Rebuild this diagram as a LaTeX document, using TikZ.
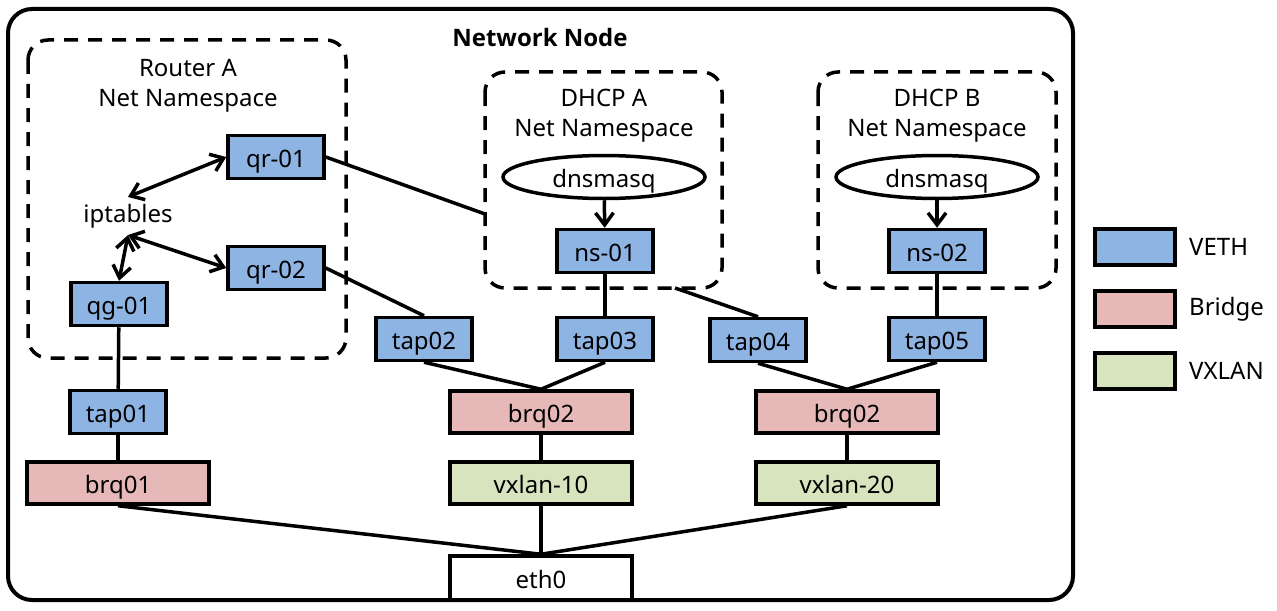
\documentclass[tikz,border=0pt]{standalone}
\usepackage{fontspec}
\setmainfont{Noto Sans}
\newfontfamily\titlefont{Open Sans}
\usetikzlibrary{positioning,arrows.meta,shapes.geometric}

\def \lineWidth {1.75pt}
\definecolor{vethBlue}{HTML}{8EB4E3}
\definecolor{bridgeRed}{HTML}{E6B9B8}
\definecolor{vxlanGreen}{HTML}{D7E4BD}

\tikzset{
  dev/.style={draw, line width=\lineWidth, inner sep=0pt, text height=10pt, text depth=0pt},
  veth/.style={dev, fill=vethBlue, minimum width=48pt, minimum height=21.5pt},
  bridge/.style={dev, fill=bridgeRed, minimum width=91pt, minimum height=21pt},
  vxlan/.style={dev, fill=vxlanGreen, minimum width=91pt, minimum height=21pt},
  proc/.style={dev, ellipse, minimum width=101pt, minimum height=21.5pt},
  nsbox/.style={draw, line width=\lineWidth, dash pattern=on 7pt off 5pt, rounded corners=10pt},
  legbox/.style={draw, line width=\lineWidth, minimum width=40pt, minimum height=18pt},
  link/.style={line width=\lineWidth},
  arr/.style={line width=\lineWidth, -{Straight Barb[length=6pt,width=9pt]}},
  twoway/.style={line width=\lineWidth, {Straight Barb[length=6pt,width=9pt]}-{Straight Barb[length=6pt,width=9pt]}}
}

\begin{document}
\begin{tikzpicture}[x=0.5pt, y=-0.5pt, font=\fontsize{12}{15}\selectfont]
   \useasboundingbox (0,0) rectangle (1277,610);
   \draw[line width=2pt, rounded corners=12pt] (8,9) rectangle (1073,600);
   \node[font=\titlefont\fontsize{12}{15}\selectfont\bfseries] (title) at (540,38) {Network Node};

   % namespaces
   \draw[nsbox] (28,40) rectangle (346,358);
   \draw[nsbox] (485,72) rectangle (722,288);
   \draw[nsbox] (818,72) rectangle (1056,288);
   \node[align=center] (routerLbl) at (188,86) {Router A\\Net Namespace};
   \node[align=center] (dhcpALbl) at (604,116) {DHCP A\\Net Namespace};
   \node[align=center] (dhcpBLbl) at (937,116) {DHCP B\\Net Namespace};
   \coordinate (dhcpAin) at (485,214);
   \coordinate (dhcpAout) at (675,288);

   % devices
   \node (iptables) at (128,216) {iptables};
   \node[veth] (qr01) at (276,157) {qr-01};
   \node[veth] (qr02) at (276,268) {qr-02};
   \node[veth] (qg01) at (119,304) {qg-01};
   \node[proc] (dnsmasqA) at (604,177) {dnsmasq};
   \node[proc] (dnsmasqB) at (937,177) {dnsmasq};
   \node[veth] (ns01) at (605,251) {ns-01};
   \node[veth] (ns02) at (937,251) {ns-02};
   \node[veth] (tap01) at (118,412) {tap01};
   \node[veth] (tap02) at (424,339) {tap02};
   \node[veth] (tap03) at (605,339) {tap03};
   \node[veth] (tap04) at (758,340) {tap04};
   \node[veth] (tap05) at (937,339) {tap05};
   \node[bridge] (brq01) at (118,483) {brq01};
   \node[bridge] (brq02a) at (541,412) {brq02};
   \node[bridge] (brq02b) at (847,412) {brq02};
   \node[vxlan] (vxlan10) at (541,483) {vxlan-10};
   \node[vxlan] (vxlan20) at (847,483) {vxlan-20};
   \node[dev, fill=white, minimum width=91pt, minimum height=22pt] (eth0) at (541,578) {eth0};

   % links
   \draw[twoway] (iptables.north) -- (qr01.west);
   \draw[twoway] (iptables.south) -- (qr02.west);
   \draw[twoway] (iptables.south) -- (qg01.north);
   \draw[arr] (dnsmasqA) -- (ns01);
   \draw[arr] (dnsmasqB) -- (ns02);
   \draw[link] (qr01.east) -- (dhcpAin);
   \draw[link] (qr02.east) -- (tap02.north);
   \draw[link] (ns01) -- (tap03);
   \draw[link] (ns02) -- (tap05);
   \draw[link] (tap04.north) -- (dhcpAout);
   \draw[link] (qg01) -- (tap01);
   \draw[link] (tap01) -- (brq01);
   \draw[link] (tap02.south) -- (brq02a.north);
   \draw[link] (tap03.south) -- (brq02a.north);
   \draw[link] (tap04.south) -- (brq02b.north);
   \draw[link] (tap05.south) -- (brq02b.north);
   \draw[link] (brq02a) -- (vxlan10);
   \draw[link] (brq02b) -- (vxlan20);
   \draw[link] (brq01.south) -- (eth0.north);
   \draw[link] (vxlan10) -- (eth0);
   \draw[link] (vxlan20.south) -- (eth0.north);

   % legend
   \node[legbox, fill=vethBlue] (legVeth) at (1135,247) {};
   \node[legbox, fill=bridgeRed] (legBridge) at (1135,309) {};
   \node[legbox, fill=vxlanGreen] (legVxlan) at (1135,371) {};
   \node[right=6pt of legVeth, inner sep=0pt] (legVethTxt) {VETH};
   \node[right=6pt of legBridge, inner sep=0pt] (legBridgeTxt) {Bridge};
   \node[right=6pt of legVxlan, inner sep=0pt] (legVxlanTxt) {VXLAN};
\end{tikzpicture}
\end{document}
